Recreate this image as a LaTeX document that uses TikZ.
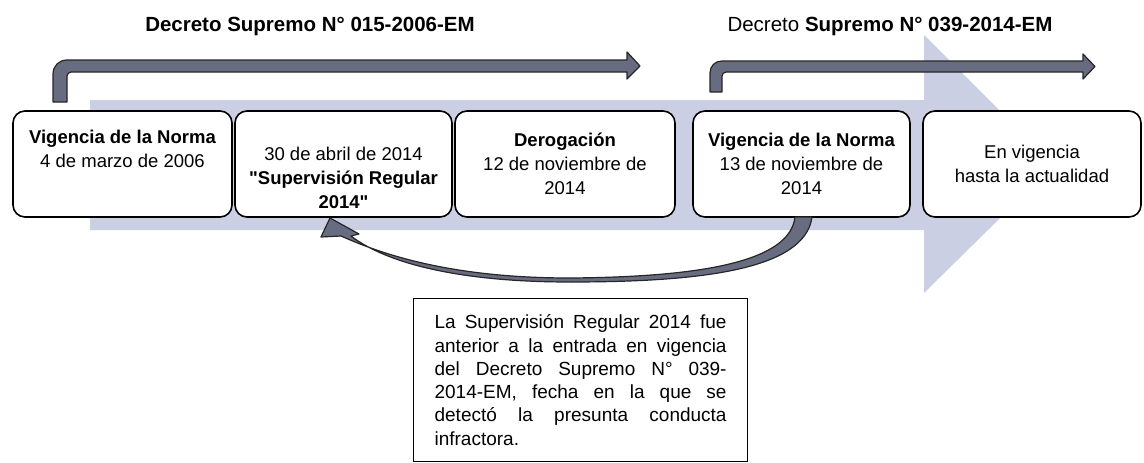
\documentclass[tikz,border=0pt]{standalone}
\usepackage{fontspec}
\setmainfont{Liberation Sans}[Ligatures=TeXOff]
\usepackage{tikz}
\definecolor{fondo}{RGB}{202,207,227}
\definecolor{flechagris}{RGB}{104,108,128}
\tikzset{%
  hito/.style={draw=black, line width=1.6pt, rounded corners=12pt, fill=white,
               minimum height=106pt, inner sep=0pt, align=center,
               font=\fontsize{18.5}{24}\selectfont},
  titulo/.style={font=\fontsize{20.5}{24}\selectfont},
  flecha/.style={draw=black!85, line width=1.2pt, fill=flechagris, line join=round},
  nota/.style={draw=black, line width=1.2pt, text width=292pt, inner xsep=21pt,
               minimum height=163pt, align=justify,
               font=\fontsize{19}{23.3}\selectfont},
}

\begin{document}
\begin{tikzpicture}[x=1pt,y=-1pt]
              \useasboundingbox (0,0) rectangle (1144,463);
              \fill[fondo] (90,100) -- (924,100) -- (924,35) -- (1054,165) -- (924,293)
                           -- (924,230) -- (90,230) -- cycle;
              \node[titulo] (ds1) at (310,26) {\textbf{Decreto Supremo N° 015-2006-EM}};
              \node[titulo] (ds2) at (890,26) {Decreto \textbf{Supremo N° 039-2014-EM}};
              \draw[flecha] (53,102) -- (53,74) .. controls (53,66) and (59,60) .. (67,60)
                            -- (627,60) -- (627,52) -- (640,66) -- (627,79) -- (627,72)
                            -- (71,72) .. controls (69,72) and (67,74) .. (67,76) -- (67,102) -- cycle;
              \draw[flecha] (710,92) -- (710,73) .. controls (710,66) and (715,61) .. (722,61)
                            -- (1083,61) -- (1083,54) -- (1095,66.5) -- (1083,79) -- (1083,72)
                            -- (726,72) .. controls (724,72) and (722,74) .. (722,76) -- (722,92) -- cycle;
              \node[hito, minimum width=219pt] (vig1) at (122.5,164)
                {\textbf{Vigencia de la Norma}\\4 de marzo de 2006\\\strut};
              \node[hito, minimum width=217pt] (sup) at (343.5,164)
                {\strut\\30 de abril de 2014\\\textbf{"Supervisión Regular}\\\textbf{2014"}};
              \node[hito, minimum width=220pt] (derog) at (565,164)
                {\textbf{Derogación}\\12 de noviembre de\\2014};
              \node[hito, minimum width=217pt] (vig2) at (801.5,164)
                {\textbf{Vigencia de la Norma}\\13 de noviembre de\\2014};
              \node[hito, minimum width=218pt] (actual) at (1032,164)
                {En vigencia\\hasta la actualidad};
              \draw[flecha] (795,217) .. controls (790,262) and (700,277) .. (570,278)
                            .. controls (460,278) and (390,258) .. (341,236)
                            -- (321,237) -- (330,218) -- (359,234) -- (351,236)
                            .. controls (385,262) and (455,282) .. (570,282)
                            .. controls (700,282) and (805,270) .. (812,217) -- cycle;
              \node[nota, anchor=north west] (nota) at (413,298)
                {La Supervisión Regular 2014 fue\linebreak
                 anterior a la entrada en vigencia\linebreak
                 del Decreto Supremo N° 039-\linebreak
                 2014-EM, fecha en la que se\linebreak
                 detectó la presunta conducta\linebreak
                 infractora.};
          \end{tikzpicture}
\end{document}
